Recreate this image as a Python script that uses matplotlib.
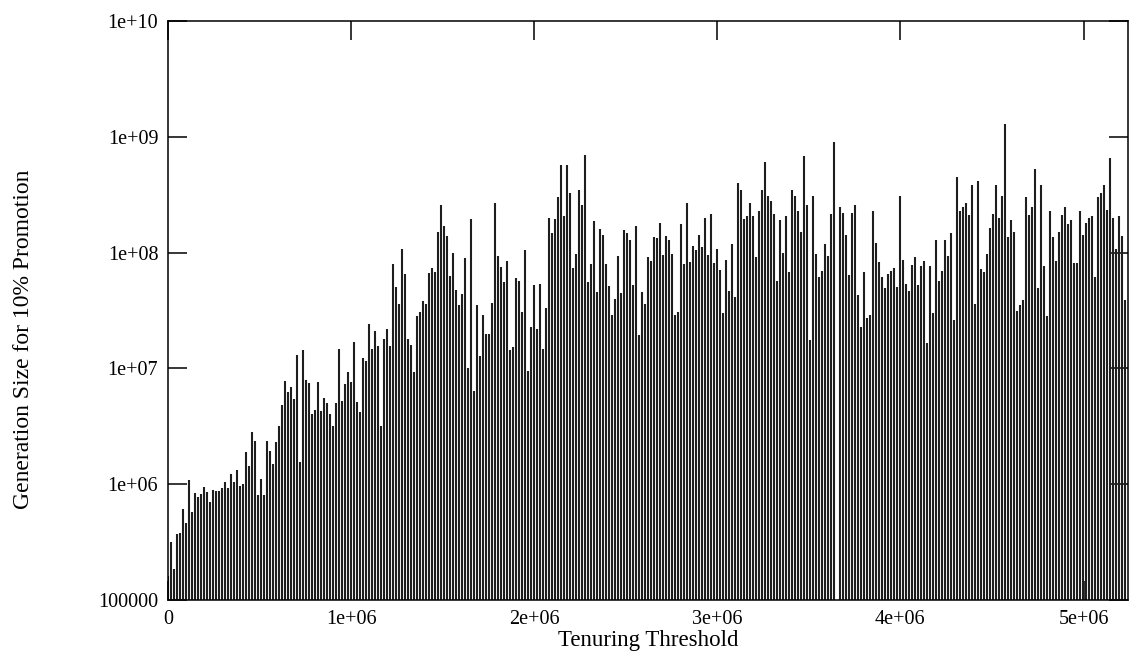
import numpy as np
import matplotlib
matplotlib.use('Agg')
import matplotlib.pyplot as plt
from matplotlib.ticker import FixedLocator, FormatStrFormatter, NullLocator

plt.rcParams['font.family'] = ['Liberation Serif', 'DejaVu Serif']

# bin width of the tenuring threshold samples
step = 16384

# generation size per threshold bin (nan = no value)
gen_size_a = [1.6e5, 3.15e5, 1.85e5, 3.7e5, 3.8e5, 6.1e5, 4.65e5, 1.09e6, 5.75e5, 8.45e5,
              7.8e5, 8.2e5, 9.5e5, 8.6e5, 7.0e5, 8.9e5, 8.8e5, 8.8e5, 9.3e5, 1.04e6,
              9.3e5, 1.22e6, 1.04e6, 1.33e6, 9.7e5, 1.0e6, 1.9e6, 1.45e6, 2.8e6, 2.36e6,
              8.1e5, 1.1e6, 8.0e5, 2.36e6, 1.94e6, 1.5e6, 2.31e6, 3.2e6, 4.8e6, 7.8e6,
              6.2e6, 6.9e6, 5.4e6, 1.3e7, 1.56e6, 1.45e7, 7.9e6, 7.5e6, 4.0e6, 4.4e6,
              7.6e6, 4.3e6, 5.6e6, 5.0e6, 4.0e6, 3.2e6, 5.0e6, 1.48e7, 5.2e6, 7.3e6,
              9.3e6, 7.6e6, 1.7e7, 5.1e6]
gen_size_b = [4.2e6, 1.22e7, 1.17e7, 2.4e7, 1.48e7, 2.1e7, 1.55e7, 3.2e6, 1.8e7, 2.2e7,
              1.55e7, 7.9e7, 5.0e7, 3.6e7, 1.07e8, 6.5e7, 1.8e7, 1.58e7, 9.4e6, 2.85e7,
              3.07e7, 3.8e7, 3.6e7, 6.7e7, 7.3e7, 6.8e7, 1.5e8, 2.6e8, 1.7e8, 1.4e8,
              6.3e7, 1.0e8, 4.75e7, 3.5e7, 4.4e7, 8.9e7, 1.0e7, 1.95e8, 6.4e6, 3.5e7,
              1.27e7, 2.9e7, 2.0e7, 2.0e7, 3.7e7, 2.7e8, 9.3e7, 7.5e7, 5.6e7, 8.4e7,
              1.45e7, 1.53e7, 6.0e7, 5.7e7, 3.1e7, 1.05e8, 9.5e6, 2.3e7, 5.3e7, 2.2e7,
              5.4e7, 1.48e7, 3.3e7, 2.0e8]
gen_size_c = [1.47e8, 1.94e8, 3.0e8, 5.7e8, 2.06e8, 5.7e8, 3.3e8, 7.4e7, 9.7e7, 3.5e8,
              2.6e8, 7.0e8, 5.6e7, 8.0e7, 1.89e8, 4.6e7, 1.6e8, 1.43e8, 8.0e7, 5.1e7,
              2.9e7, 4.0e7, 9.3e7, 4.5e7, 1.56e8, 1.48e8, 1.29e8, 5.2e7, 1.69e8, 1.93e7,
              4.6e7, 3.6e7, 9.2e7, 8.4e7, 1.36e8, 1.35e8, 1.79e8, 9.5e7, 1.38e8, 1.28e8,
              9.7e7, 2.9e7, 3.07e7, 1.77e8, 7.9e7, 2.7e8, 8.3e7, 1.13e8, 1.06e8, 1.43e8,
              1.11e8, 2.0e8, 9.6e7, 2.15e8, 8.2e7, 1.07e8, 7.1e7, 3.0e7, 8.7e7, 4.7e7,
              1.19e8, 4.1e7, 4.0e8, 3.5e8]
gen_size_d = [1.94e8, 2.06e8, 2.7e8, 2.07e8, 9.2e7, 2.3e8, 3.5e8, 6.1e8, 3.1e8, 2.8e8,
              2.15e8, 5.7e7, 1.9e8, 9.9e7, 2.07e8, 6.8e7, 3.45e8, 3.06e8, 2.3e8, 1.5e8,
              6.8e8, 2.6e8, 1.76e7, 3.06e8, 9.8e7, 6.2e7, 7.0e7, 1.18e8, 9.3e7, 2.14e8,
              9.0e8, np.nan, 2.5e8, 2.2e8, 1.41e8, 6.4e7, 2.2e8, 2.56e8, 4.3e7, 2.3e7,
              6.8e7, 2.7e7, 2.9e7, 2.3e8, 1.21e8, 8.3e7, 6.2e7, 4.9e7, 6.5e7, 6.9e7,
              7.3e7, 5.0e7, 3.06e8, 8.6e7, 5.4e7, 4.7e7, 7.8e7, 9.2e7, 5.3e7, 7.6e7,
              8.4e7, 1.67e7, 7.7e7, 3.0e7]
gen_size_e = [1.29e8, 5.7e7, 7.0e7, 1.29e8, 9.3e7, 1.47e8, 2.6e7, 4.5e8, 2.3e8, 2.5e8,
              2.7e8, 2.1e8, 3.8e8, 3.6e7, 4.15e8, 7.2e7, 6.8e7, 9.7e7, 1.64e8, 2.15e8,
              3.8e8, 2.0e8, 3.1e8, 1.3e9, 1.36e8, 1.9e8, 1.5e8, 3.15e7, 3.5e7, 3.9e7,
              3.0e8, 2.1e8, 2.5e8, 5.3e8, 4.9e7, 3.8e8, 7.7e7, 2.85e7, 2.3e8, 1.36e8,
              8.4e7, 1.5e8, 2.1e8, 2.5e8, 1.77e8, 1.9e8, 8.2e7, 8.2e7, 2.3e8, 1.42e8,
              1.79e8, 2.0e8, 2.08e8, 6.2e7, 3.0e8, 3.3e8, 3.8e8, 2.35e8, 6.6e8, 2.0e8,
              1.08e8, 2.08e8, 1.38e8, 3.9e7]

gen_size = np.array(gen_size_a + gen_size_b + gen_size_c + gen_size_d + gen_size_e)
threshold = np.arange(len(gen_size)) * step

xticks = [0, 1e6, 2e6, 3e6, 4e6, 5e6]
yticks = [1e5, 1e6, 1e7, 1e8, 1e9, 1e10]

fig = plt.figure(figsize=(11.32, 6.63), dpi=100)
ax = fig.add_axes([168/1132, 63/663, 960/1132, 579/663])

ax.set_yscale('log')
ax.vlines(threshold, 1e5, gen_size, colors='#1e1e1e', linewidth=1.5)

ax.set_xlim(0, len(gen_size) * step)
ax.set_ylim(1e5, 1e10)

ax.xaxis.set_major_locator(FixedLocator(xticks))
ax.yaxis.set_major_locator(FixedLocator(yticks))
ax.xaxis.set_minor_locator(NullLocator())
ax.yaxis.set_minor_locator(NullLocator())
ax.xaxis.set_major_formatter(FormatStrFormatter('%g'))
ax.yaxis.set_major_formatter(FormatStrFormatter('%g'))
ax.tick_params(which='major', direction='in', length=14, width=1.1,
               top=True, right=True, labelsize=14.5, pad=7)

for s in ax.spines.values():
    s.set_linewidth(1.1)

ax.set_xlabel('Tenuring Threshold', fontsize=16.5)
ax.set_ylabel('Generation Size for 10% Promotion', fontsize=17)
ax.xaxis.set_label_coords(0.5, -0.052)
ax.yaxis.set_label_coords(-0.14, 0.45)

fig.savefig('out.png', dpi=100)
